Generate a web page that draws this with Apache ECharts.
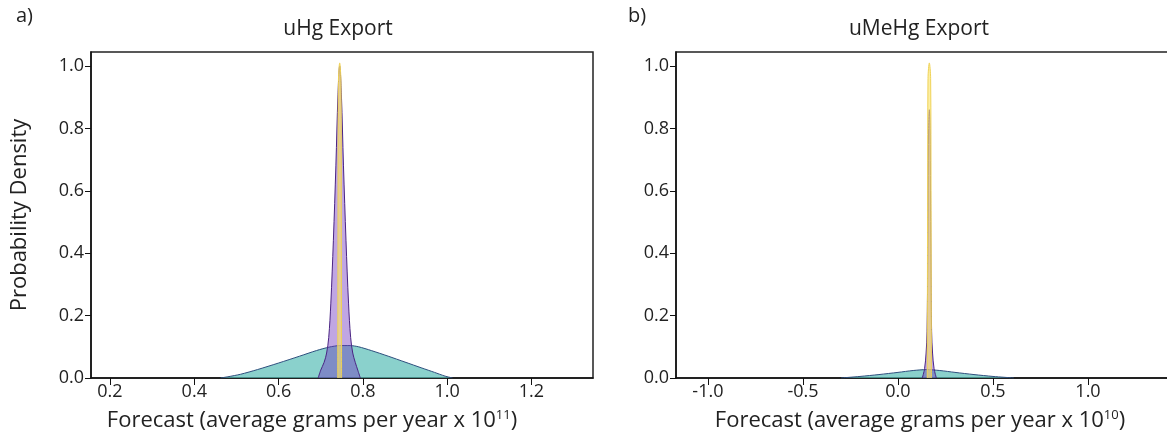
<!DOCTYPE html>
<html>
<head>
<meta charset="utf-8">
<script src="https://cdn.jsdelivr.net/npm/echarts@6/dist/echarts.min.js"></script>
<style>
  html, body { margin: 0; padding: 0; background: #fff; overflow: hidden; }
  #chart { width: 1180px; height: 444px; }
</style>
</head>
<body>
<div id="chart"></div>
<script>
// Panel a) uHg export forecast densities (x in units of 1e11 g/yr)
const uhgTealX   = [0.462, 0.48, 0.51, 0.55, 0.60, 0.65, 0.69, 0.72, 0.745, 0.77, 0.79, 0.82, 0.86, 0.90, 0.94, 0.97, 0.995, 1.013];
const uhgTealY   = [0, 0.004, 0.012, 0.027, 0.048, 0.070, 0.088, 0.099, 0.104, 0.104, 0.100, 0.088, 0.070, 0.051, 0.032, 0.018, 0.006, 0];
const uhgPurpleX = [0.694, 0.700, 0.708, 0.714, 0.719, 0.724, 0.730, 0.736, 0.741, 0.745, 0.749, 0.754, 0.760, 0.766, 0.771, 0.776, 0.782, 0.788, 0.794];
const uhgPurpleY = [0, 0.025, 0.05, 0.08, 0.13, 0.24, 0.44, 0.68, 0.91, 1.00, 0.91, 0.68, 0.44, 0.24, 0.13, 0.08, 0.05, 0.025, 0];
const uhgYellowX = [0.7405, 0.741, 0.742, 0.745, 0.748, 0.749, 0.7495];
const uhgYellowY = [0, 0.5, 0.95, 1.01, 0.95, 0.5, 0];

// Panel b) uMeHg export forecast densities (x in units of 1e10 g/yr)
const umehgTealX   = [-0.30, -0.20, -0.10, 0.00, 0.08, 0.15, 0.22, 0.30, 0.40, 0.50, 0.61];
const umehgTealY   = [0, 0.005, 0.011, 0.018, 0.024, 0.027, 0.024, 0.018, 0.011, 0.005, 0];
const umehgPurpleX = [0.128, 0.140, 0.148, 0.153, 0.157, 0.161, 0.165, 0.169, 0.173, 0.177, 0.182, 0.190, 0.202];
const umehgPurpleY = [0, 0.03, 0.08, 0.15, 0.40, 0.80, 0.86, 0.80, 0.40, 0.15, 0.08, 0.03, 0];
const umehgYellowX = [0.154, 0.156, 0.158, 0.165, 0.172, 0.174, 0.176];
const umehgYellowY = [0, 0.6, 0.96, 1.01, 0.96, 0.6, 0];

// Tick labels
const yTicks     = [0, 0.2, 0.4, 0.6, 0.8, 1.0];
const uhgTicks   = [0.2, 0.4, 0.6, 0.8, 1.0, 1.2];
const umehgTicks = [-1.0, -0.5, 0.0, 0.5, 1.0];

const pairs = (xs, ys) => xs.map((x, i) => [x, ys[i]]);

const FONT = '"Open Sans", "Noto Sans", sans-serif';
const INK = '#222';

const TEAL   = { fill: 'rgb(88,190,183)',        line: '#2f4f7e', smooth: 0.25 };
const PURPLE = { fill: 'rgba(110,50,190,0.62)',  line: '#4a2483', smooth: 0.35 };
const YELLOW = { fill: 'rgba(250,228,110,0.9)',  line: '#efd257', smooth: 0.35 };

function density(name, data, c, axisIdx, z) {
  return {
    name, type: 'line', data,
    xAxisIndex: axisIdx, yAxisIndex: axisIdx,
    smooth: c.smooth,
    showSymbol: false, silent: true, z,
    lineStyle: { color: c.line, width: 1 },
    areaStyle: { color: c.fill, origin: 'start' }
  };
}

function xAxisFor(grid, min, max, ticks) {
  return {
    type: 'value', gridIndex: grid, min, max,
    axisLine: { show: true, onZero: false, lineStyle: { color: '#111', width: 1.5 } },
    axisTick: { show: true, length: 7, customValues: ticks, lineStyle: { color: '#111', width: 1 } },
    axisLabel: { customValues: ticks, margin: 5, fontFamily: FONT, fontSize: 18, color: INK,
                 formatter: v => v.toFixed(1) },
    splitLine: { show: false }
  };
}

function yAxisFor(grid, withName) {
  return {
    type: 'value', gridIndex: grid, min: 0, max: 1.045,
    name: withName ? 'Probability Density' : '',
    nameLocation: 'middle', nameGap: 60, nameRotate: 90,
    nameTextStyle: { fontFamily: FONT, fontSize: 22, color: INK },
    axisLine: { show: true, onZero: false, lineStyle: { color: '#111', width: 1.5 } },
    axisTick: { show: true, length: 6, customValues: yTicks, lineStyle: { color: '#111', width: 1 } },
    axisLabel: { customValues: yTicks, margin: 7, fontFamily: FONT, fontSize: 18, color: INK,
                 formatter: v => v.toFixed(1) },
    splitLine: { show: false }
  };
}

function label(text, x, y, size, align) {
  return {
    text, left: x, top: y, textAlign: align || 'center',
    textStyle: {
      fontFamily: FONT, fontSize: size, fontWeight: 'normal', color: INK,
      rich: {
        base: { fontFamily: FONT, fontSize: size, color: INK },
        sup: { fontFamily: FONT, fontSize: 13, color: INK, padding: [0, 0, 11, 0] }
      }
    },
    padding: 0
  };
}

const chart = echarts.init(document.getElementById('chart'), null, { renderer: 'canvas' });

chart.setOption({
  animation: false,
  backgroundColor: '#fff',
  title: [
    label('a)', 16, 6, 20, 'left'),
    label('b)', 628, 6, 20, 'left'),
    label('uHg Export', 338, 19, 21),
    label('uMeHg Export', 919, 19, 21),
    label('{base|Forecast (average grams per year x 10}{sup|11}{base|)}', 312, 409, 22),
    label('{base|Forecast (average grams per year x 10}{sup|10}{base|)}', 920, 409, 22)
  ],
  grid: [
    { left: 91, top: 52, width: 502, height: 326, show: true, borderColor: '#222', borderWidth: 1.5, backgroundColor: 'transparent' },
    { left: 676, top: 52, width: 500, height: 326, show: true, borderColor: '#222', borderWidth: 1.5, backgroundColor: 'transparent' }
  ],
  xAxis: [
    xAxisFor(0, 0.155, 1.346, uhgTicks),
    xAxisFor(1, -1.168, 1.463, umehgTicks)
  ],
  yAxis: [
    yAxisFor(0, true),
    yAxisFor(1, false)
  ],
  series: [
    density('uHg broad', pairs(uhgTealX, uhgTealY), TEAL, 0, 2),
    density('uHg narrow', pairs(uhgPurpleX, uhgPurpleY), PURPLE, 0, 3),
    density('uHg spike', pairs(uhgYellowX, uhgYellowY), YELLOW, 0, 4),
    density('uMeHg broad', pairs(umehgTealX, umehgTealY), TEAL, 1, 2),
    density('uMeHg narrow', pairs(umehgPurpleX, umehgPurpleY), PURPLE, 1, 3),
    density('uMeHg spike', pairs(umehgYellowX, umehgYellowY), YELLOW, 1, 4)
  ]
});
</script>
</body>
</html>
